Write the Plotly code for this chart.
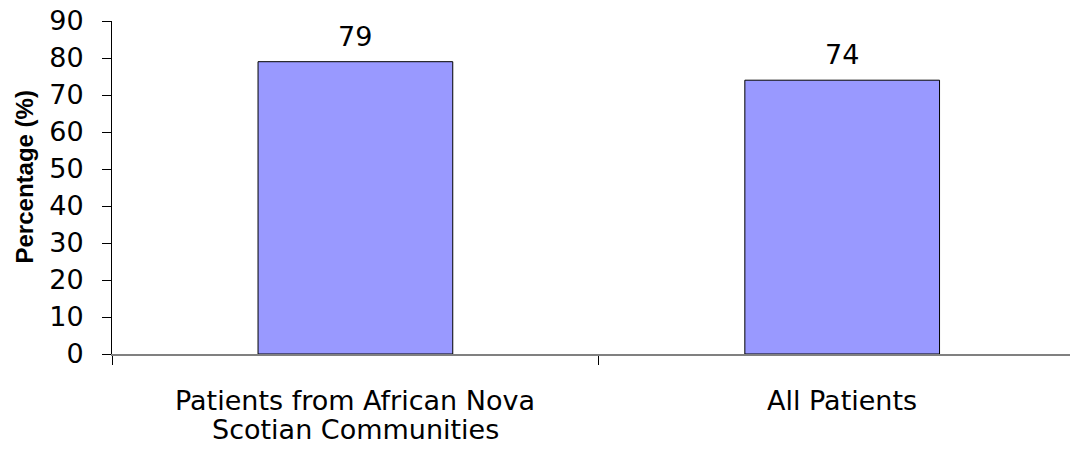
import plotly.graph_objects as go

categories = ["African Nova Scotian", "All"]
category_lines = [["Patients from African Nova", "Scotian Communities"], ["All Patients"]]
percentages = [79, 74]
y_ticks = [0, 10, 20, 30, 40, 50, 60, 70, 80, 90]
y_title = "Percentage (%)"

label_font = "DejaVu Sans"

fig = go.Figure()
fig.add_trace(go.Bar(
    x=categories,
    y=percentages,
    width=0.4,
    marker=dict(color="#9999FF", line=dict(color="#000000", width=1)),
    hoverinfo="skip",
))

# value labels above each bar
for cat, val in zip(categories, percentages):
    fig.add_annotation(
        x=cat, y=val, text=str(val), showarrow=False,
        yanchor="bottom", yshift=8,
        font=dict(family=label_font, size=27, color="#000000"),
    )

# category names under the axis, one line at a time for tight spacing
for cat, lines in zip(categories, category_lines):
    for i, line in enumerate(lines):
        fig.add_annotation(
            x=cat, xref="x", y=0, yref="paper", text=line, showarrow=False,
            yanchor="middle", yshift=-46 - 29 * i,
            font=dict(family=label_font, size=27, color="#000000"),
        )

# rotated y-axis title, sitting slightly above the plot's midline
fig.add_annotation(
    x=0, xref="paper", y=0.5, yref="paper", text=f"<b>{y_title}</b>",
    showarrow=False, textangle=-90, xanchor="center", yanchor="middle",
    xshift=-88, yshift=10,
    font=dict(family="Liberation Sans, Arial", size=24, color="#000000"),
)

fig.update_layout(
    width=1070, height=451,
    margin=dict(l=112, r=0, t=21, b=97),
    paper_bgcolor="white", plot_bgcolor="white",
    showlegend=False,
    xaxis=dict(
        type="category",
        range=[-0.5, 1.468],
        showline=True, linecolor="#808080", linewidth=2,
        ticks="outside", tickson="boundaries", ticklen=9, tickcolor="#000000", tickwidth=1,
        showgrid=False, zeroline=False,
        showticklabels=False,
    ),
    yaxis=dict(
        range=[0, 90],
        tickvals=y_ticks,
        showline=True, linecolor="#000000", linewidth=1,
        ticks="outside", ticklen=9, tickcolor="#000000", tickwidth=1,
        showgrid=False, zeroline=False,
        tickfont=dict(family=label_font, size=27, color="#000000"),
        ticklabelstandoff=13,
    ),
)

fig.write_html("out.html")
